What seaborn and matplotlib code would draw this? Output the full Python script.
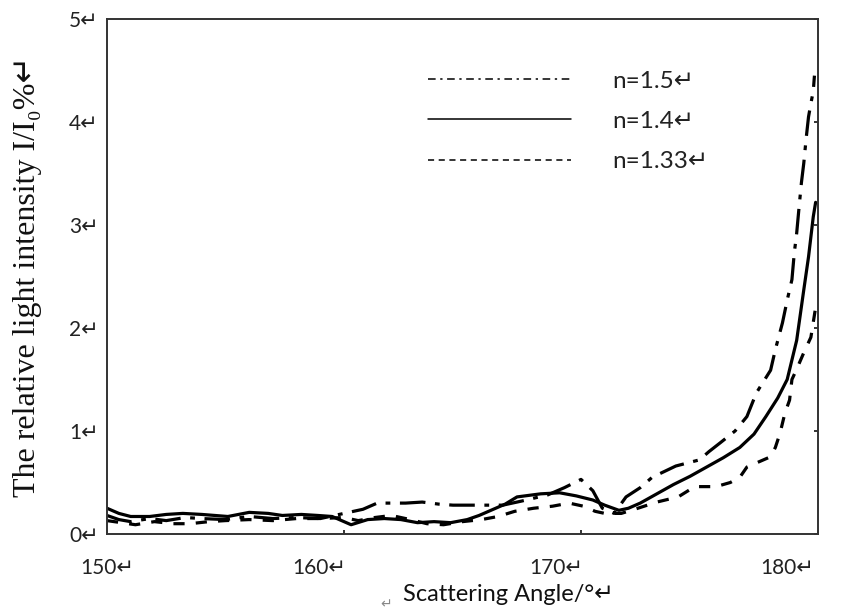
import numpy as np
import pandas as pd
import matplotlib
matplotlib.use("Agg")
import matplotlib.pyplot as plt
import matplotlib.transforms as mtransforms
from matplotlib.lines import Line2D
import seaborn as sns

# %% dados (angulo em graus, intensidade relativa em %)
angle_15 = [150.0, 150.5, 151.0, 151.8, 152.5, 153.3, 154.0, 155.0, 156.0, 157.0, 158.0, 159.0,
            160.0, 160.8, 161.4, 162.6, 163.3, 164.0, 164.6, 165.7, 166.7, 167.5, 168.6, 169.3,
            170.0, 170.5, 170.9, 171.4, 171.9, 172.5, 173.0, 174.0, 175.0, 175.4, 175.9, 176.5,
            177.0, 177.4, 178.0, 178.2, 178.5, 178.7, 178.9, 179.0, 179.1, 179.2, 179.3, 179.4,
            179.5, 179.6, 179.7, 179.8, 179.85]
int_15 = [0.18, 0.14, 0.12, 0.15, 0.13, 0.16, 0.15, 0.14, 0.17, 0.15, 0.16, 0.15,
          0.20, 0.24, 0.30, 0.30, 0.31, 0.29, 0.28, 0.28, 0.28, 0.32, 0.38, 0.45,
          0.53, 0.42, 0.25, 0.20, 0.36, 0.45, 0.55, 0.66, 0.72, 0.80, 0.89, 1.00,
          1.14, 1.37, 1.59, 1.79, 2.05, 2.27, 2.47, 2.73, 2.92, 3.17, 3.41, 3.60,
          3.84, 4.05, 4.18, 4.30, 4.45]

angle_14 = [150.0, 150.5, 151.0, 151.8, 152.5, 153.2, 154.0, 155.1, 156.0, 156.8, 157.4, 158.2,
            158.9, 159.5, 160.3, 161.0, 161.7, 162.4, 163.1, 163.8, 164.5, 165.2, 165.7, 166.2,
            166.8, 167.3, 168.3, 169.1, 169.8, 170.5, 171.0, 171.6, 172.0, 172.5, 173.2, 173.9,
            174.6, 175.3, 176.0, 176.7, 177.3, 177.8, 178.3, 178.7, 179.1, 179.4, 179.6, 179.8,
            179.9]
int_14 = [0.25, 0.20, 0.17, 0.17, 0.19, 0.20, 0.19, 0.17, 0.21, 0.20, 0.18, 0.19,
          0.18, 0.17, 0.09, 0.14, 0.15, 0.14, 0.11, 0.12, 0.11, 0.14, 0.18, 0.23,
          0.29, 0.36, 0.39, 0.40, 0.37, 0.33, 0.28, 0.23, 0.25, 0.30, 0.39, 0.48,
          0.56, 0.65, 0.74, 0.84, 0.97, 1.14, 1.32, 1.50, 1.88, 2.37, 2.69, 3.08,
          3.22]

angle_133 = [150.0, 150.6, 151.2, 152.0, 152.8, 153.5, 154.3, 155.0, 156.0, 157.0, 158.0, 159.0,
             160.0, 160.6, 161.3, 162.0, 162.8, 163.5, 164.2, 165.0, 165.8, 166.5, 167.2, 168.0,
             168.8, 169.5, 170.1, 170.6, 171.0, 171.7, 172.4, 173.2, 174.1, 174.8, 175.7, 176.3,
             176.7, 177.0, 177.5, 178.0, 178.2, 178.4, 178.6, 178.8, 178.9, 179.1, 179.4, 179.7,
             179.9]
int_133 = [0.13, 0.11, 0.09, 0.12, 0.10, 0.10, 0.12, 0.13, 0.14, 0.13, 0.15, 0.15,
           0.16, 0.13, 0.16, 0.18, 0.14, 0.10, 0.09, 0.12, 0.14, 0.17, 0.22, 0.25,
           0.27, 0.30, 0.27, 0.22, 0.20, 0.20, 0.25, 0.31, 0.36, 0.46, 0.46, 0.50,
           0.55, 0.65, 0.70, 0.75, 0.84, 0.98, 1.17, 1.30, 1.50, 1.60, 1.76, 1.91,
           2.20]

labels = ["n=1.5↵", "n=1.4↵", "n=1.33↵"]
x_ticks = [150, 160, 170, 180]
y_ticks = [0, 1, 2, 3, 4, 5]

# %%
sns.set_style("white")
plt.rcParams["font.family"] = ["Lato", "DejaVu Sans"]

fig = plt.figure(figsize=(8.5, 6.14), dpi=100)
ax = fig.add_axes([107 / 850, 1 - 534 / 614, 711 / 850, 515 / 614])

# dash-dot, solida e tracejada
sns.lineplot(x=angle_15, y=int_15, ax=ax, color="black", linewidth=2.3,
             linestyle=(0, (8, 3, 1.5, 3)), estimator=None)
sns.lineplot(x=angle_14, y=int_14, ax=ax, color="black", linewidth=2.3,
             linestyle="-", estimator=None)
sns.lineplot(x=angle_133, y=int_133, ax=ax, color="black", linewidth=2.3,
             linestyle=(0, (3.5, 3.5)), estimator=None)

ax.set_xlim(150, 180)
ax.set_ylim(0, 5)
ax.set_xticks(x_ticks)
ax.set_xticklabels([f"{t}↵" for t in x_ticks])
ax.set_yticks(y_ticks)
ax.set_yticklabels([f"{t}↵" for t in y_ticks])
ax.tick_params(axis="both", direction="in", length=3, width=1.4, labelsize=15,
               labelcolor="#222222", color="#333333", pad=6)
ax.tick_params(axis="y", right=True)
ax.tick_params(axis="x", bottom=True, pad=17)

# rotulos do eixo x deslocados como na figura
offsets = [0, -18, -18, -22]
for lab, dx in zip(ax.get_xticklabels(), offsets):
    lab.set_transform(lab.get_transform() + mtransforms.ScaledTranslation(dx / 72, 0, fig.dpi_scale_trans))

for s in ax.spines.values():
    s.set_visible(True)
    s.set_color("#333333")
    s.set_linewidth(1.4)

ax.set_ylabel("The relative light intensity I/I₀%↵",
              family=["Liberation Serif", "DejaVu Sans"], fontsize=23, color="#111111")
ax.yaxis.set_label_coords(-0.091, 0.5)
ax.set_xlabel("Scattering Angle/°↵", fontsize=17, color="#111111")
ax.xaxis.set_label_coords(0.565, -0.097)
fig.text(386 / 850, 1 - 604 / 614, "↵", fontsize=10, color="#888888", ha="center", va="center",
         family="DejaVu Sans")

handles = [
    Line2D([], [], color="black", linewidth=1.1, linestyle=(0, (5, 3, 1.5, 3))),
    Line2D([], [], color="black", linewidth=1.1, linestyle="-"),
    Line2D([], [], color="black", linewidth=1.1, linestyle=(0, (4, 3))),
]
ax.legend(handles, labels, loc="upper left", bbox_to_anchor=(0.4515, 0.90), frameon=False,
          fontsize=17.5, handlelength=5.9, handletextpad=1.7, labelspacing=0.8,
          borderpad=0, borderaxespad=0, labelcolor="#222222")

fig.savefig("out.png", dpi=100)
